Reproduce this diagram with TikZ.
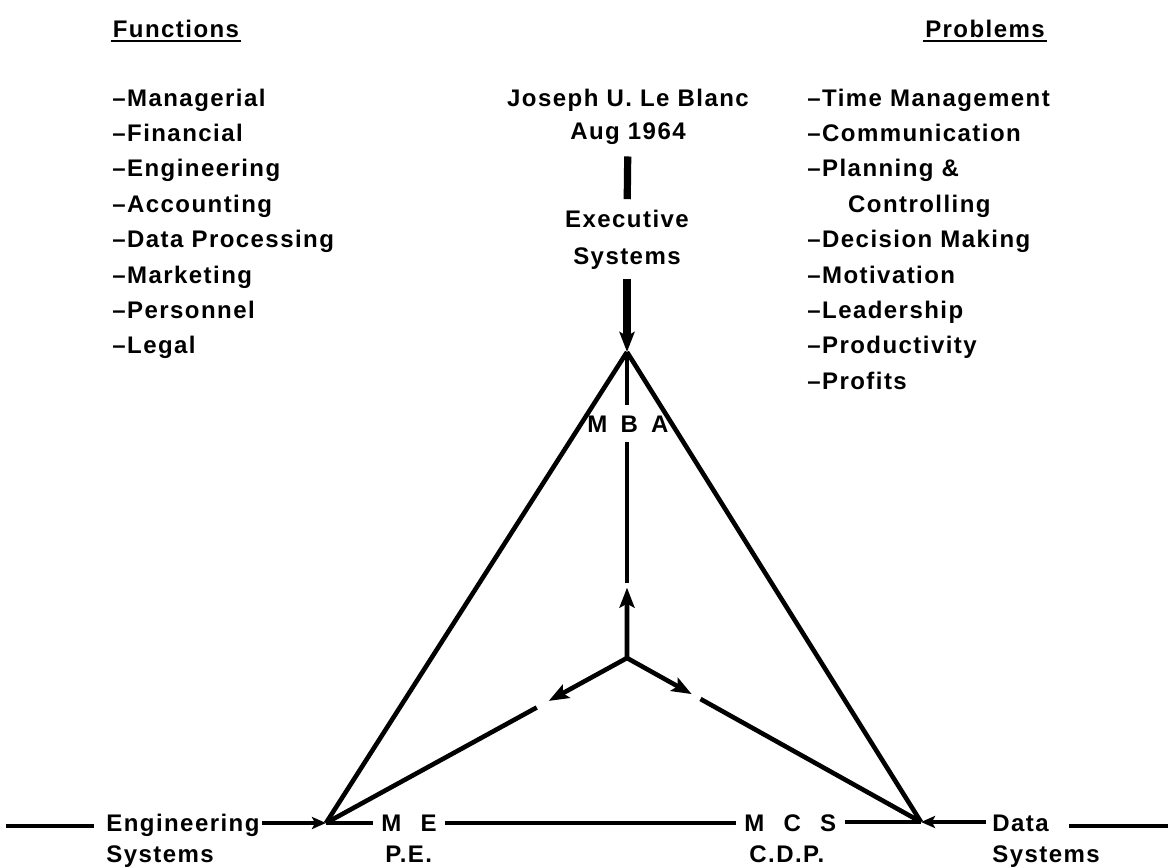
\documentclass[tikz,border=0pt]{standalone}
\usepackage{fontspec}
\setmainfont{Liberation Sans}[LetterSpace=6]
\usetikzlibrary{arrows.meta,positioning,calc}

\tikzset{
  lbl/.style={font=\bfseries\fontsize{12}{14}\selectfont, inner sep=1pt, anchor=base},
  item/.style={lbl, anchor=base west},
  side/.style={line width=2.3pt},
  heavy/.style={line width=3.6pt},
  tip/.style={-{Stealth[length=10pt,width=7.5pt,inset=2pt]}},
  smalltip/.style={-{Stealth[length=7pt,width=6pt,inset=1.5pt]}},
}
\newcommand{\gap}{\hspace{0.8em}}

\begin{document}
\begin{tikzpicture}[x=0.5pt, y=-0.5pt]
  \useasboundingbox (0,0) rectangle (1168,867);

  % headings
  \node[lbl] (fun) at (176,37) {Functions};
  \node[lbl] (prob) at (985,37) {Problems};
  \draw[line width=0.8pt] ([yshift=-2pt]fun.base west) -- ([yshift=-2pt]fun.base east);
  \draw[line width=0.8pt] ([yshift=-2pt]prob.base west) -- ([yshift=-2pt]prob.base east);

  % lists
  \foreach \t [count=\i] in {Managerial, Financial, Engineering, Accounting,
      Data Processing, Marketing, Personnel, Legal}
    \node[item] (fn\i) at (110, 106+35.4*\i-35.4) {\textendash\t};
  \foreach \t [count=\i] in {\textendash Time Management, \textendash Communication,
      \textendash Planning \&, \hspace*{1.7em}Controlling, \textendash Decision Making,
      \textendash Motivation, \textendash Leadership, \textendash Productivity,
      \textendash Profits}
    \node[item] (pb\i) at (805, 106+35.4*\i-35.4) {\t};

  % top block
  \node[lbl] (author) at (628,106) {Joseph U. Le Blanc};
  \node[lbl] (date) at (628,139) {Aug 1964};
  \node[lbl] (exec) at (627,227) {Executive};
  \node[lbl] (execsys) at (627,264) {Systems};

  % triangle corners
  \coordinate (top) at (627,352);
  \coordinate (bl) at (326,823);
  \coordinate (br) at (921,822);
  \coordinate (ctr) at (627,658);

  \node[lbl] (mba) at (628,432) {M\hspace{0.55em}B\hspace{0.55em}A};
  \node[item] (me) at (379,831) {M\gap E};
  \node[item] (pe) at (383,862) {P.E.};
  \node[item] (mcs) at (742,831) {M\gap C\gap S};
  \node[item] (cdp) at (747,862) {C.D.P.};

  \node[item] (eng) at (104,831) {Engineering};
  \node[item] (engsys) at (104,862) {Systems};
  \node[item] (data) at (990,831) {Data};
  \node[item] (datasys) at (990,862) {Systems};
  \coordinate (lend) at (6,826);
  \coordinate (rend) at (1168,826);

  \draw[heavy, shorten <=5pt, shorten >=4pt] (date) -- (exec);
  \draw[heavy, tip, shorten <=4pt] (execsys) -- (top);

  % sides
  \draw[side] (top) -- (bl);
  \draw[side] (top) -- (br);
  \draw[side, shorten >=3pt] (bl) -- (me.west |- bl);
  \draw[side, shorten <=3pt, shorten >=3pt] (me.east |- bl) -- (mcs.west |- bl);
  \draw[side, shorten <=3pt] (mcs.east |- br) -- (br);

  % spokes
  \draw[side, shorten <=4pt] (mba.north -| top) -- (top);
  \draw[side, shorten >=4pt] ($(ctr)!0.245!(top)$) -- (mba.south -| top);
  \draw[side, tip] (ctr) -- ($(ctr)!0.23!(top)$);
  \draw[side, tip] (ctr) -- ($(ctr)!0.26!(bl)$);
  \draw[side] ($(ctr)!0.30!(bl)$) -- (bl);
  \draw[side, tip] (ctr) -- ($(ctr)!0.22!(br)$);
  \draw[side] ($(ctr)!0.25!(br)$) -- (br);

  % outer links
  \draw[side, shorten >=5pt] (lend) -- (lend -| eng.west);
  \draw[side, smalltip] (eng.east |- bl) -- (bl);
  \draw[side, smalltip, shorten <=2pt] (data.west |- br) -- (br);
  \draw[side, shorten <=9pt] (data.east |- rend) -- (rend);
\end{tikzpicture}
\end{document}
